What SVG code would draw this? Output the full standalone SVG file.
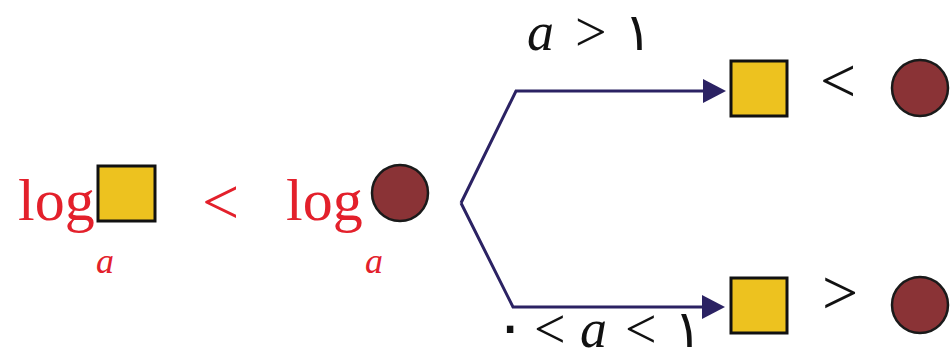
<svg xmlns="http://www.w3.org/2000/svg" width="952" height="360" viewBox="0 0 952 360">
<style>
.red{fill:#E3202B;font-family:"Liberation Serif",serif}
.blk{fill:#111;font-family:"Liberation Serif",serif}
.it{font-style:italic}
.per{fill:#111;font-family:"DejaVu Sans",sans-serif}
.sq{fill:#EDC21F;stroke:#111;stroke-width:3}
.ci{fill:#8A3336;stroke:#1a1a1a;stroke-width:2.5}
.con{fill:none;stroke:#2B2263;stroke-width:3}
.ah{fill:#2B2263}
</style>
<rect width="952" height="360" fill="#fff"/>
<g id="left-expr">
<text class="red" x="18" y="220" font-size="60">log</text>
<text class="red it" x="96" y="273" font-size="36">a</text>
</g>
<g id="sq-left"><rect class="sq" x="98" y="166" width="57" height="55"/></g>
<g id="lt-red"><text class="red" x="202" y="224" font-size="66">&lt;</text></g>
<g id="right-expr">
<text class="red" x="286" y="220" font-size="60">log</text>
<text class="red it" x="365" y="273" font-size="36">a</text>
</g>
<g id="ci-left"><circle class="ci" cx="400" cy="193" r="28"/></g>
<g id="connectors">
<path class="con" d="M461,203 L516,91 L703,91"/>
<path class="ah" d="M703,79 L726,91 L703,103 Z"/>
<path class="con" d="M461,203 L513,307 L703,307"/>
<path class="ah" d="M702,295 L725,307 L702,319 Z"/>
</g>
<g id="label-top">
<text class="blk it" x="527" y="50" font-size="54">a</text>
<text class="blk" x="575" y="51" font-size="56">&gt;</text>
<text class="per" x="624" y="50" font-size="52">۱</text>
</g>
<g id="label-bottom">
<text class="per" x="494" y="346" font-size="60">۰</text>
<text class="blk" x="534" y="348" font-size="56">&lt;</text>
<text class="blk it" x="580" y="347" font-size="54">a</text>
<text class="blk" x="625" y="348" font-size="56">&lt;</text>
<text class="per" x="674" y="347" font-size="52">۱</text>
</g>
<g id="sq-top"><rect class="sq" x="731" y="61" width="56" height="55"/></g>
<g id="rel-top"><text class="blk" x="820" y="102" font-size="64">&lt;</text></g>
<g id="ci-top"><circle class="ci" cx="920" cy="88" r="28"/></g>
<g id="sq-bottom"><rect class="sq" x="731" y="278" width="56" height="55"/></g>
<g id="rel-bottom"><text class="blk" x="822" y="314" font-size="64">&gt;</text></g>
<g id="ci-bottom"><circle class="ci" cx="920" cy="305" r="28"/></g>
</svg>
